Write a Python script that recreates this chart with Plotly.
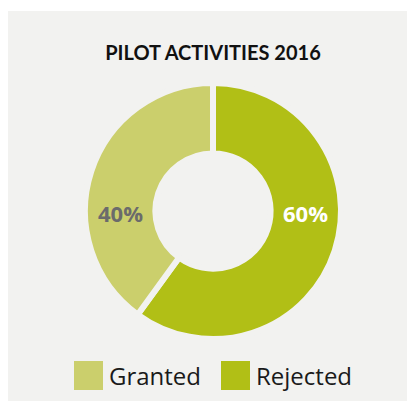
import plotly.graph_objects as go

# data
labels = ["Granted", "Rejected"]
values = [40, 60]
colors = ["#cbcf6c", "#b1bf16"]
label_colors = ["#6b6b6b", "#ffffff"]
title = "PILOT ACTIVITIES 2016"

W, H = 415, 401
BG = "#f2f2f0"
OFF = 8  # page body margin in the browser


def px(x):
    return (x - OFF) / W


def py(y):
    return 1 - (y - OFF) / H


# donut geometry in screen pixels
cx, cy, R = 213, 211, 128
hole = 0.45

# Rejected starts at 12 o'clock and runs clockwise, Granted fills the rest
fig = go.Figure(go.Pie(
    labels=labels[::-1],
    values=values[::-1],
    marker=dict(colors=colors[::-1], line=dict(color=BG, width=6)),
    hole=hole,
    sort=False,
    direction="clockwise",
    rotation=0,
    textinfo="none",
    hoverinfo="label+percent",
    showlegend=False,
    domain=dict(x=[px(cx - R), px(cx + R)], y=[py(cy + R), py(cy - R)]),
))

# grey panel behind the chart
fig.add_shape(type="rect", xref="paper", yref="paper",
              x0=0, x1=1, y0=0, y1=py(11),
              fillcolor=BG, line_width=0, layer="below")

# percentage labels, left and right of the ring
total = sum(values)
mid = (R * hole + R) / 2
for lab, v, c, side in zip(labels, values, label_colors, [-1, 1]):
    fig.add_annotation(
        x=px(cx + side * mid), y=py(cy + 2),
        xref="paper", yref="paper", showarrow=False,
        xanchor="center", yanchor="middle",
        text=f"<b>{round(100 * v / total)}%</b>",
        font=dict(family="Open Sans", size=22, color=c),
    )

# custom legend with big square swatches
leg_x = [74, 221]
for lab, c, x in zip(labels, colors, leg_x):
    fig.add_shape(type="rect", xref="paper", yref="paper",
                  x0=px(x), x1=px(x + 29), y0=py(390), y1=py(361),
                  fillcolor=c, line_width=0)
    fig.add_annotation(
        x=px(x + 33), y=py(375), xref="paper", yref="paper",
        xanchor="left", yanchor="middle", showarrow=False, text=lab,
        font=dict(family="Open Sans", size=24, color="#1a1a1a"),
    )

fig.update_layout(
    width=W, height=H,
    margin=dict(l=0, r=0, t=0, b=0),
    paper_bgcolor="white",
    plot_bgcolor="white",
    title=dict(text=f"<b>{title}</b>", x=px(213), xanchor="center",
               y=py(53), yanchor="middle",
               font=dict(family="Lato", size=20, color="#111111")),
)

fig.write_html("out.html")
